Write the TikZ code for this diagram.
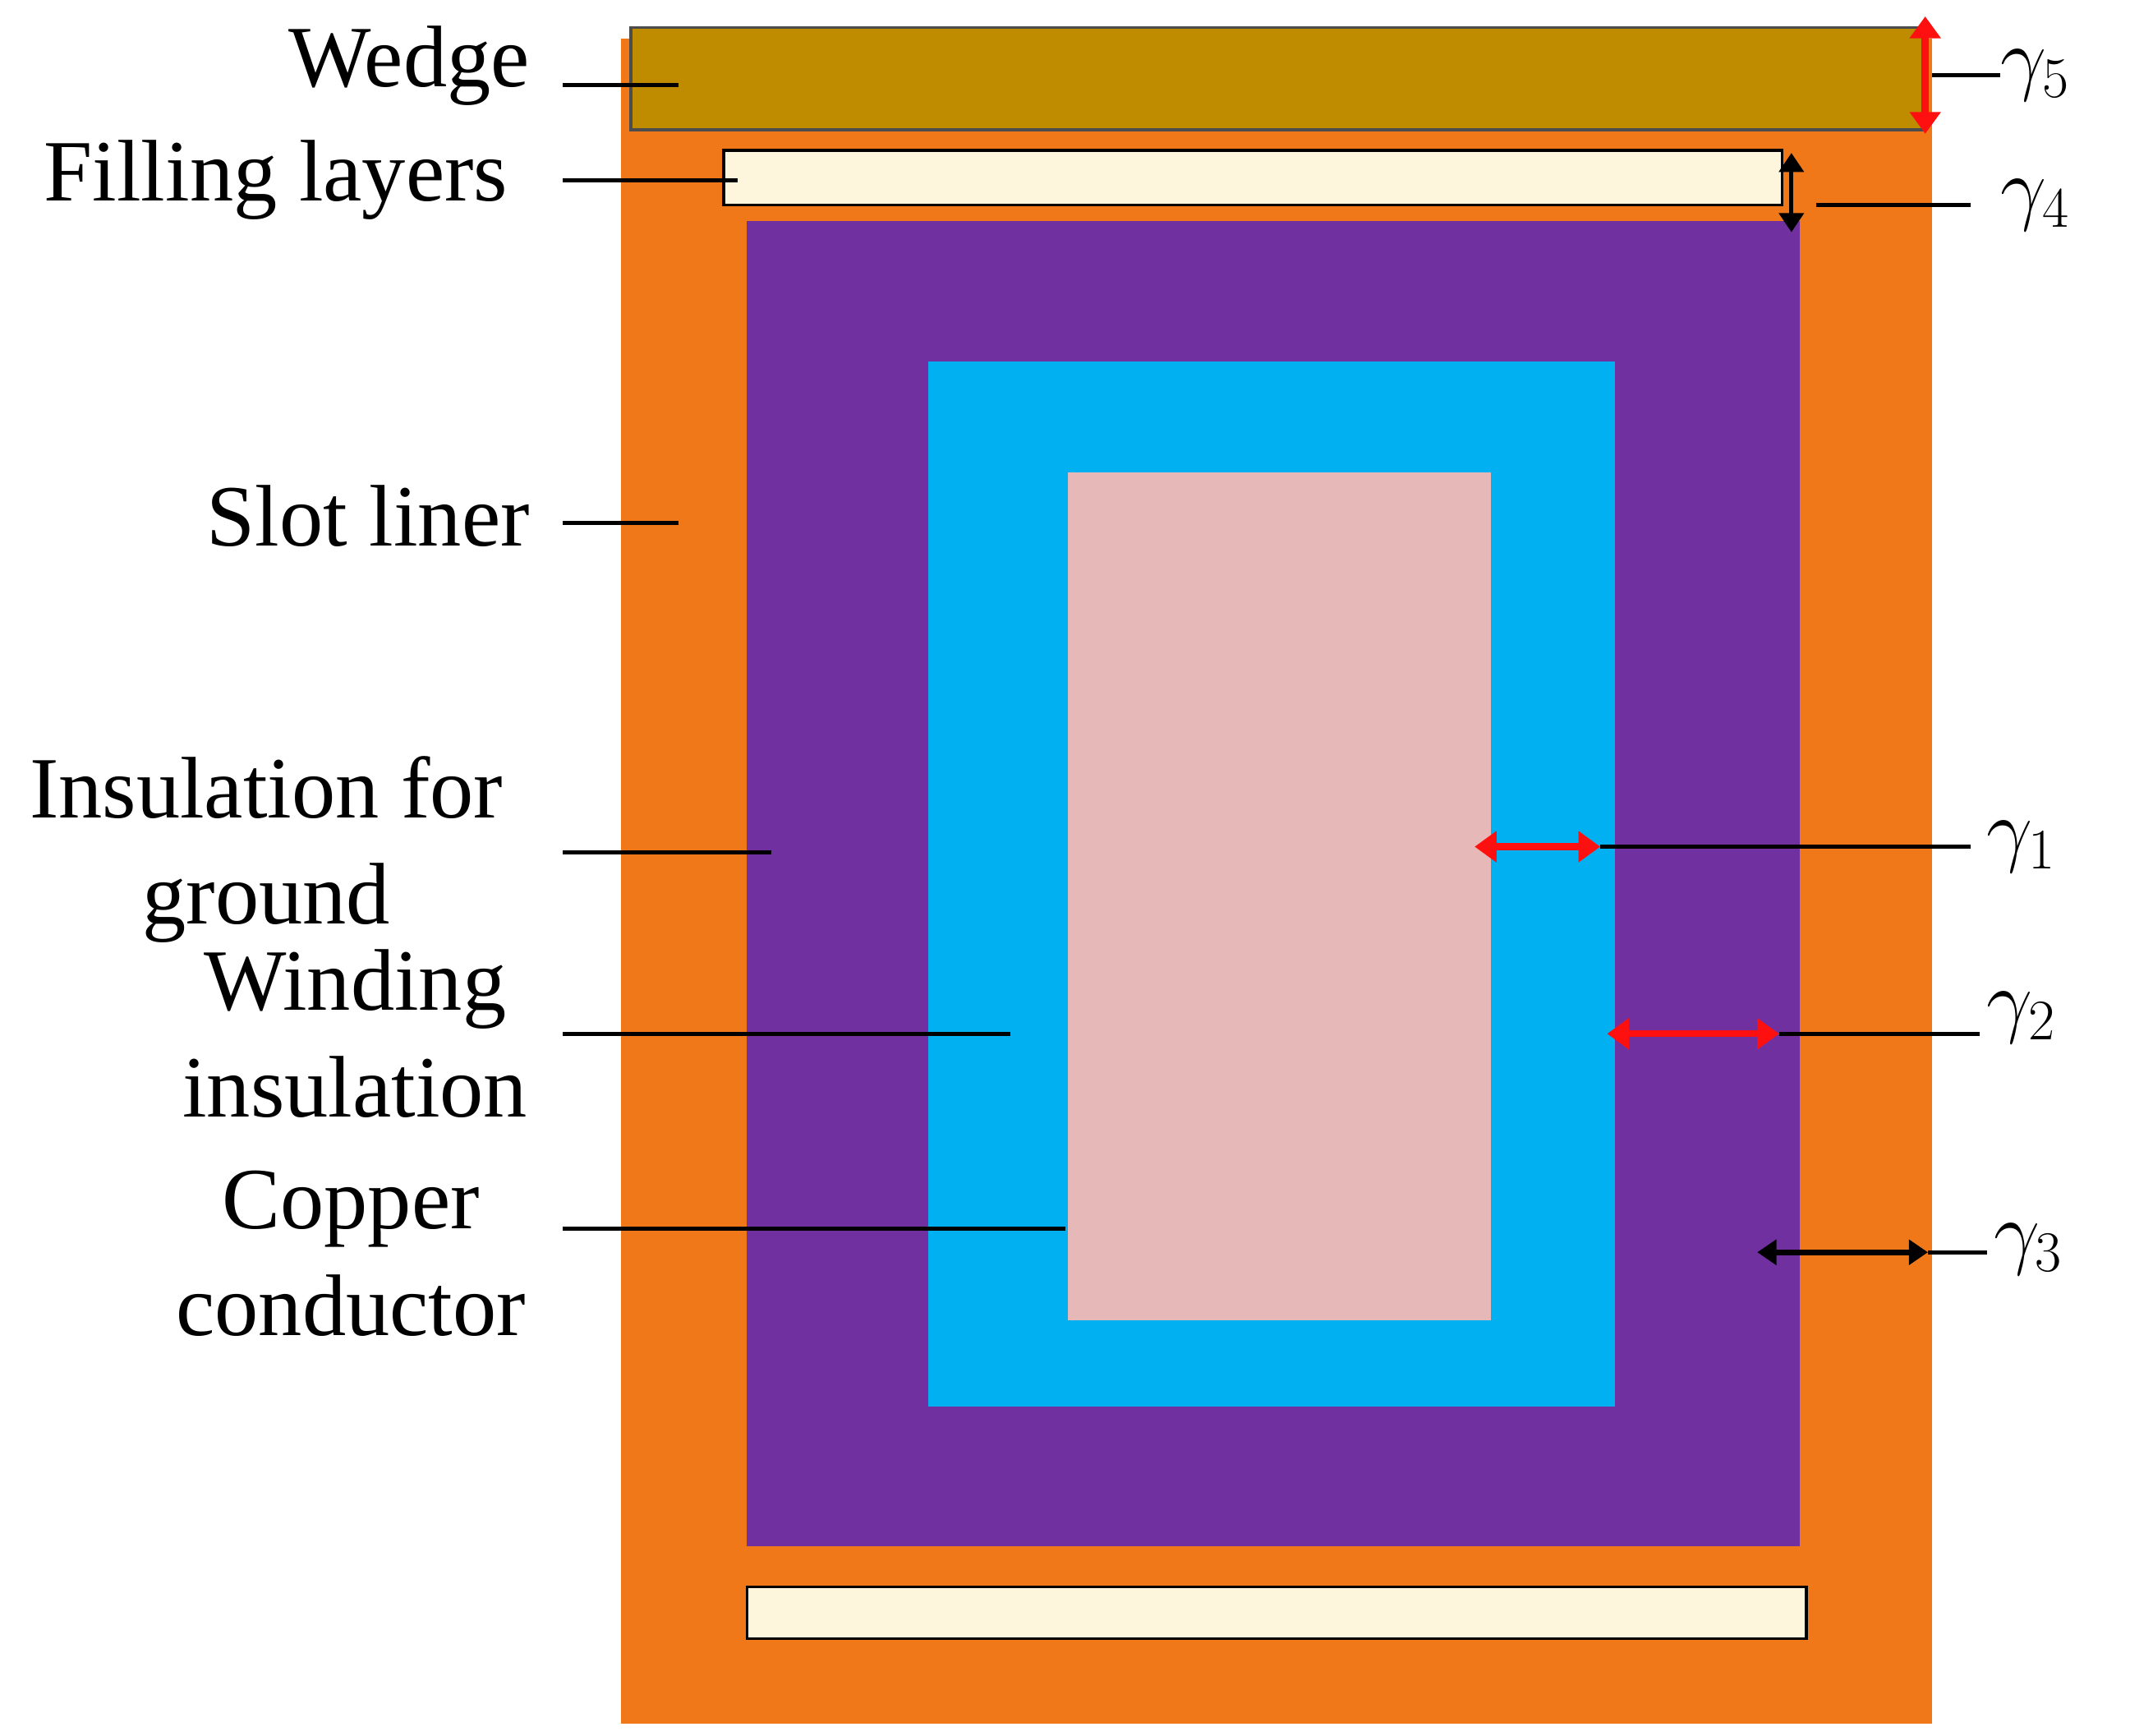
\RequirePackage{fix-cm}
\documentclass[tikz,border=0pt]{standalone}
\usepackage{fontspec}
\setmainfont{Liberation Serif}
\usetikzlibrary{arrows.meta}
\definecolor{slot}{HTML}{F07818}
\definecolor{wedge}{HTML}{BF8C00}
\definecolor{fill}{HTML}{FDF5DC}
\definecolor{purp}{HTML}{7030A0}
\definecolor{cyanb}{HTML}{00B0F0}
\definecolor{pinkc}{HTML}{E6B9B8}
\definecolor{redarr}{HTML}{FF1010}
\begin{document}
\begin{tikzpicture}[x=1pt,y=-1pt,
 lab/.style={font=\fontsize{64}{78}\selectfont, inner sep=0pt, align=center},
 gl/.style={font=\fontsize{60}{60}\selectfont, inner sep=0pt, anchor=west},
 ld/.style={line width=3pt},
 rda/.style={line width=5pt, redarr, {Triangle[length=16pt,width=22pt]}-{Triangle[length=16pt,width=22pt]}},
 bda/.style={line width=4pt, black, {Triangle[length=14pt,width=18pt]}-{Triangle[length=14pt,width=18pt]}}]
\useasboundingbox (0,0) rectangle (1560,1271);
\fill[white] (0,0) rectangle (1560,1271);
\fill[slot] (455,28) rectangle (1415,1262);
\filldraw[fill=wedge, draw=black!70, line width=2pt] (462,20) rectangle (1408,95);
\filldraw[fill=fill, draw=black, line width=2pt] (530,110) rectangle (1305,150);
\fill[purp] (547,162) rectangle (1318,1132);
\fill[cyanb] (680,265) rectangle (1183,1030);
\fill[pinkc] (782,346) rectangle (1092,967);
\filldraw[fill=fill, draw=black, line width=2pt] (547,1162) rectangle (1323,1200);
% labels
\node[lab, anchor=east] (w) at (388,48) {Wedge};
\node[lab, anchor=east] (f) at (372,132) {Filling layers};
\node[lab, anchor=east] (s) at (388,378) {Slot liner};
\node[lab] (ig) at (195,622) {Insulation for\\ground};
\node[lab] (wi) at (260,757) {Winding\\insulation};
\node[lab] (cc) at (257,918) {Copper\\conductor};
\coordinate (w1) at (412,62); \coordinate (w2) at (497,62);
\coordinate (f1) at (412,132); \coordinate (f2) at (540,132);
\coordinate (s1) at (412,383); \coordinate (s2) at (497,383);
\coordinate (i1) at (412,624); \coordinate (i2) at (565,624);
\coordinate (n1) at (412,757); \coordinate (n2) at (740,757);
\coordinate (c1) at (412,900); \coordinate (c2) at (780,900);
\foreach \a/\b in {w1/w2,f1/f2,s1/s2,i1/i2,n1/n2,c1/c2} \draw[ld] (\a) -- (\b);
% gammas
\node[gl] (g5) at (1465,55) {$\gamma_5$};
\node[gl] (g4) at (1465,150) {$\gamma_4$};
\node[gl] (g1) at (1455,620) {$\gamma_1$};
\node[gl] (g2) at (1455,745) {$\gamma_2$};
\node[gl] (g3) at (1460,915) {$\gamma_3$};
\coordinate (a5t) at (1410,12); \coordinate (a5b) at (1410,98);
\coordinate (a4t) at (1312,112); \coordinate (a4b) at (1312,170);
\coordinate (a1l) at (1080,620); \coordinate (a1r) at (1172,620);
\coordinate (a2l) at (1177,757); \coordinate (a2r) at (1303,757);
\coordinate (a3l) at (1287,917); \coordinate (a3r) at (1412,917);
\draw[rda] (a5t) -- (a5b);
\draw[bda, line width=3pt] (a4t) -- (a4b);
\draw[rda] (a1l) -- (a1r);
\draw[rda] (a2l) -- (a2r);
\draw[bda] (a3l) -- (a3r);
\draw[ld] (1415,55) -- (g5.west);
\draw[ld] (1330,150) -- (1443,150);
\draw[ld] (a1r) -- (1443,620);
\draw[ld] (a2r) -- (1450,757);
\draw[ld] (a3r) -- (1455,917);
\end{tikzpicture}
\end{document}
